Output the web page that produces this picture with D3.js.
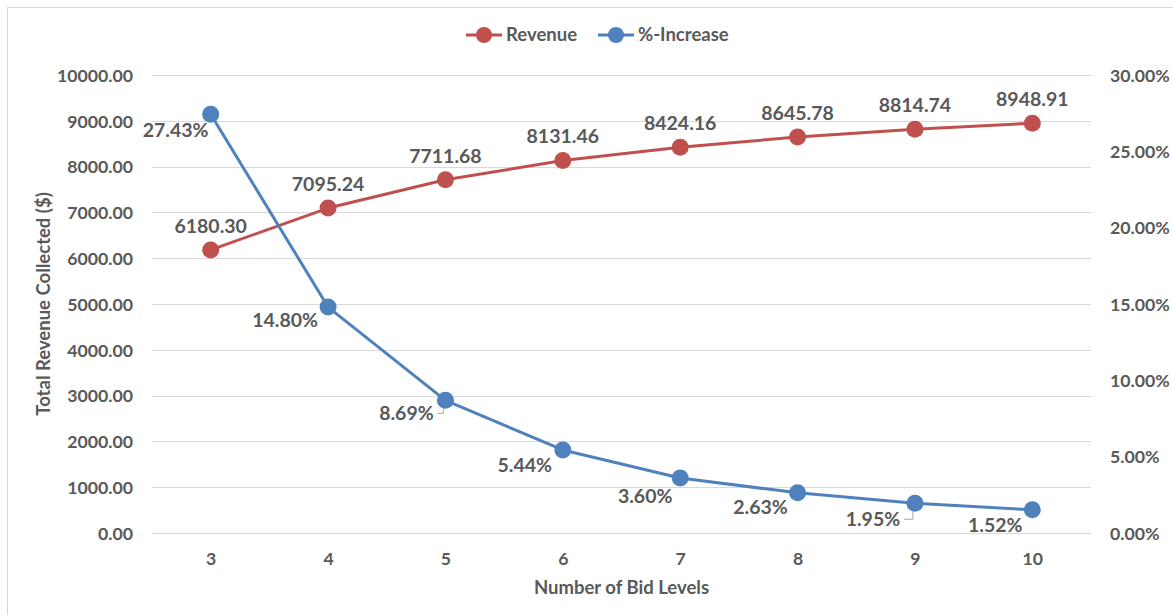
<!DOCTYPE html>
<html>
<head>
<meta charset="utf-8">
<script src="https://cdn.jsdelivr.net/npm/d3@7"></script>
<style>
  html, body { margin: 0; padding: 0; background: #fff; }
  svg { display: block; }
  text { font-family: Lato, "Open Sans", sans-serif; font-weight: bold; fill: #595959; }
</style>
</head>
<body>
<svg id="chart" width="1173" height="615"></svg>
<script>
// ---- data ----
const categories = [3, 4, 5, 6, 7, 8, 9, 10];
const revenue = [6180.30, 7095.24, 7711.68, 8131.46, 8424.16, 8645.78, 8814.74, 8948.91];
const pctIncrease = [27.43, 14.80, 8.69, 5.44, 3.60, 2.63, 1.95, 1.52];
const leftTicks = [0, 1000, 2000, 3000, 4000, 5000, 6000, 7000, 8000, 9000, 10000];
const rightTicks = [0, 5, 10, 15, 20, 25, 30];
const seriesNames = ["Revenue", "%-Increase"];

// ---- style ----
const RED = "#C0504D", BLUE = "#4F81BD";
const TICK_FS = "17.7px", TITLE_FS = "18.5px", LABEL_FS = "19.5px";
// percent label offsets (center dx, dy relative to the point)
const pctLabelOffset = [[-35, 16], [-43, 13], [-39, 13], [-38, 15], [-35, 18], [-37, 14], [-42, 16], [-37, 15]];
const pctLeader = [false, false, true, false, false, false, true, false];

const svg = d3.select("#chart");
const m = { left: 152, right: 1091, top: 75, bottom: 533 };

// outer frame
svg.append("rect").attr("x", 7.5).attr("y", 7.5).attr("width", 1200).attr("height", 700)
  .attr("fill", "none").attr("stroke", "#d9d9d9").attr("stroke-width", 1);

const x = d3.scalePoint().domain(categories).range([m.left, m.right]).padding(0.5);
const yL = d3.scaleLinear().domain([0, 10000]).range([m.bottom, m.top]);
const yR = d3.scaleLinear().domain([0, 30]).range([m.bottom, m.top]);

// gridlines
svg.append("g").selectAll("line").data(leftTicks).join("line")
  .attr("x1", m.left).attr("x2", m.right)
  .attr("y1", d => Math.round(yL(d)) + 0.5).attr("y2", d => Math.round(yL(d)) + 0.5)
  .attr("stroke", "#d9d9d9").attr("stroke-width", 1);

// left axis
const axL = svg.append("g").attr("transform", `translate(${m.left - 19},0)`)
  .call(d3.axisLeft(yL).tickValues(leftTicks).tickFormat(d => d.toFixed(2)).tickSize(0).tickPadding(0));
axL.select(".domain").remove();
axL.selectAll("text").style("font-size", TICK_FS).attr("dy", "0.35em");

// right axis
const axR = svg.append("g").attr("transform", `translate(${m.right + 19},0)`)
  .call(d3.axisRight(yR).tickValues(rightTicks).tickFormat(d => d.toFixed(2) + "%").tickSize(0).tickPadding(0));
axR.select(".domain").remove();
axR.selectAll("text").style("font-size", TICK_FS).attr("dy", "0.35em");

// bottom axis
const axB = svg.append("g").attr("transform", `translate(0,${m.bottom})`)
  .call(d3.axisBottom(x).tickSize(0).tickPadding(0));
axB.select(".domain").remove();
axB.selectAll("text").style("font-size", TICK_FS).attr("dy", "0").attr("y", 32);

svg.selectAll(".tick text").attr("fill", "#595959").style("font-family", "Lato, 'Open Sans', sans-serif").style("font-weight", "bold");

// axis titles
svg.append("text").attr("x", (m.left + m.right) / 2).attr("y", 594)
  .attr("text-anchor", "middle").style("font-size", TITLE_FS).text("Number of Bid Levels");
svg.append("text").attr("transform", `translate(50,${(m.top + m.bottom) / 2}) rotate(-90)`)
  .attr("text-anchor", "middle").style("font-size", TITLE_FS).text("Total Revenue Collected ($)");

// lines
const lineRev = d3.line().x((d, i) => x(categories[i])).y(d => yL(d));
const linePct = d3.line().x((d, i) => x(categories[i])).y(d => yR(d));

svg.append("path").datum(revenue).attr("d", lineRev).attr("fill", "none")
  .attr("stroke", RED).attr("stroke-width", 3).attr("stroke-linejoin", "round");
svg.append("path").datum(pctIncrease).attr("d", linePct).attr("fill", "none")
  .attr("stroke", BLUE).attr("stroke-width", 3).attr("stroke-linejoin", "round");

// leader lines for some percent labels
svg.append("g").selectAll("path").data(pctIncrease.map((v, i) => ({ v, i })).filter(d => pctLeader[d.i]))
  .join("path")
  .attr("d", d => {
    const px = x(categories[d.i]), py = yR(d.v);
    const lx = px + pctLabelOffset[d.i][0] + 31, ly = py + pctLabelOffset[d.i][1];
    return `M${lx},${ly}H${px - 2}V${py + 2}`;
  })
  .attr("fill", "none").attr("stroke", "#a6a6a6").attr("stroke-width", 1);

// markers
svg.append("g").selectAll("circle").data(revenue).join("circle")
  .attr("cx", (d, i) => x(categories[i])).attr("cy", d => yL(d)).attr("r", 8.5).attr("fill", RED);
svg.append("g").selectAll("circle").data(pctIncrease).join("circle")
  .attr("cx", (d, i) => x(categories[i])).attr("cy", d => yR(d)).attr("r", 8.5).attr("fill", BLUE);

// data labels
svg.append("g").selectAll("text").data(revenue).join("text")
  .attr("x", (d, i) => x(categories[i])).attr("y", d => yL(d) - 24)
  .attr("dy", "0.35em").attr("text-anchor", "middle").style("font-size", LABEL_FS)
  .text(d => d.toFixed(2));
svg.append("g").selectAll("text").data(pctIncrease).join("text")
  .attr("x", (d, i) => x(categories[i]) + pctLabelOffset[i][0])
  .attr("y", (d, i) => yR(d) + pctLabelOffset[i][1])
  .attr("dy", "0.35em").attr("text-anchor", "middle").style("font-size", LABEL_FS)
  .text(d => d.toFixed(2) + "%");

// legend
const legend = svg.append("g");
const legendItems = [
  { name: seriesNames[0], color: RED, x0: 466 },
  { name: seriesNames[1], color: BLUE, x0: 598 }
];
legendItems.forEach(it => {
  legend.append("line").attr("x1", it.x0).attr("x2", it.x0 + 36).attr("y1", 35).attr("y2", 35)
    .attr("stroke", it.color).attr("stroke-width", 3);
  legend.append("circle").attr("cx", it.x0 + 18).attr("cy", 35).attr("r", 8).attr("fill", it.color);
  legend.append("text").attr("x", it.x0 + 40).attr("y", 35).attr("dy", "0.35em")
    .style("font-size", TITLE_FS).text(it.name);
});
</script>
</body>
</html>
